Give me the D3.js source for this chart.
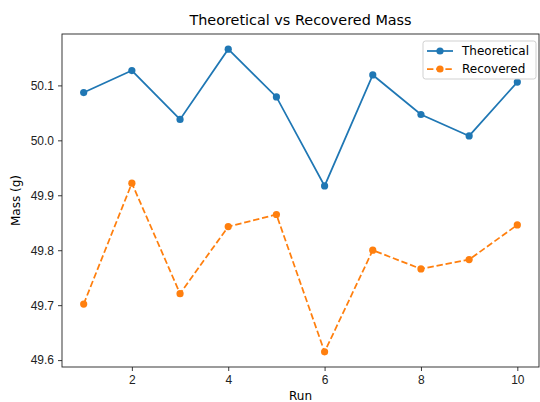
<!DOCTYPE html>
<html>
<head>
<meta charset="utf-8">
<script src="https://cdn.jsdelivr.net/npm/d3@7"></script>
<style>
  body { margin: 0; background: #fff; }
  svg { font-family: "DejaVu Sans", sans-serif; }
</style>
</head>
<body>
<svg id="chart" width="540" height="402"></svg>
<script>
const runs = [1, 2, 3, 4, 5, 6, 7, 8, 9, 10];
const theoretical = [50.087, 50.127, 50.038, 50.166, 50.079, 49.917, 50.119, 50.047, 50.008, 50.106];
const recovered = [49.702, 49.922, 49.721, 49.843, 49.865, 49.615, 49.800, 49.766, 49.783, 49.846];
const xTicks = [2, 4, 6, 8, 10];
const yTicks = [49.6, 49.7, 49.8, 49.9, 50.0, 50.1];

const width = 540, height = 402;
const margin = { top: 34, right: 1, bottom: 35, left: 62 };

const svg = d3.select('#chart');

// matplotlib-like 5% margins
const xMin = d3.min(runs), xMax = d3.max(runs);
const xPad = (xMax - xMin) * 0.05;
const allY = theoretical.concat(recovered);
const yMin = d3.min(allY), yMax = d3.max(allY);
const yPad = (yMax - yMin) * 0.05;

const x = d3.scaleLinear()
    .domain([xMin - xPad, xMax + xPad])
    .range([margin.left, width - margin.right]);
const y = d3.scaleLinear()
    .domain([yMin - yPad, yMax + yPad])
    .range([height - margin.bottom, margin.top]);

// Axes
const xAxis = svg.append('g')
    .attr('transform', `translate(0,${height - margin.bottom})`)
    .call(d3.axisBottom(x).tickValues(xTicks).tickFormat(d3.format('d')).tickSize(4).tickPadding(4));
const yAxis = svg.append('g')
    .attr('transform', `translate(${margin.left},0)`)
    .call(d3.axisLeft(y).tickValues(yTicks).tickFormat(d3.format('.1f')).tickSize(4).tickPadding(4));

[xAxis, yAxis].forEach(a => {
    a.select('.domain').remove();
    a.selectAll('text').attr('font-size', '12px').attr('fill', '#222');
    a.selectAll('line').attr('stroke', '#222').attr('stroke-width', 0.9);
});

// Frame
svg.append('rect')
    .attr('x', margin.left)
    .attr('y', margin.top)
    .attr('width', width - margin.left - margin.right)
    .attr('height', height - margin.top - margin.bottom)
    .attr('fill', 'none')
    .attr('stroke', '#222')
    .attr('stroke-width', 0.9);

// Series
const series = [
    { name: 'Theoretical', values: theoretical, color: '#1f77b4', dash: null },
    { name: 'Recovered', values: recovered, color: '#ff7f0e', dash: '6.4,2.8' },
];

const line = d3.line()
    .x((d, i) => x(runs[i]))
    .y(d => y(d));

series.forEach(s => {
    svg.append('path')
        .datum(s.values)
        .attr('fill', 'none')
        .attr('stroke', s.color)
        .attr('stroke-width', 1.75)
        .attr('stroke-dasharray', s.dash)
        .attr('d', line);
    svg.append('g')
        .selectAll('circle')
        .data(s.values)
        .enter()
        .append('circle')
        .attr('cx', (d, i) => x(runs[i]))
        .attr('cy', d => y(d))
        .attr('r', 3.6)
        .attr('fill', s.color);
});

// Title and labels
svg.append('text')
    .attr('x', (margin.left + width - margin.right) / 2)
    .attr('y', 25)
    .attr('text-anchor', 'middle')
    .attr('font-size', '14.4px')
    .attr('fill', '#000')
    .text('Theoretical vs Recovered Mass');

svg.append('text')
    .attr('x', (margin.left + width - margin.right) / 2)
    .attr('y', 400)
    .attr('text-anchor', 'middle')
    .attr('font-size', '12px')
    .attr('fill', '#000')
    .text('Run');

svg.append('text')
    .attr('transform', `translate(20,${(margin.top + height - margin.bottom) / 2}) rotate(-90)`)
    .attr('text-anchor', 'middle')
    .attr('font-size', '12px')
    .attr('fill', '#000')
    .text('Mass (g)');

// Legend
const legend = svg.append('g').attr('transform', 'translate(423,41)');
legend.append('rect')
    .attr('width', 113)
    .attr('height', 38)
    .attr('rx', 2.5)
    .attr('fill', '#fff')
    .attr('fill-opacity', 0.8)
    .attr('stroke', '#ccc')
    .attr('stroke-width', 0.9);

series.forEach((s, i) => {
    const ly = 10 + i * 18;
    legend.append('line')
        .attr('x1', 4).attr('x2', 30)
        .attr('y1', ly).attr('y2', ly)
        .attr('stroke', s.color)
        .attr('stroke-width', 1.75)
        .attr('stroke-dasharray', s.dash);
    legend.append('circle')
        .attr('cx', 17).attr('cy', ly)
        .attr('r', 3.6)
        .attr('fill', s.color);
    legend.append('text')
        .attr('x', 39).attr('y', ly + 4)
        .attr('font-size', '12px')
        .attr('fill', '#000')
        .text(s.name);
});
</script>
</body>
</html>
